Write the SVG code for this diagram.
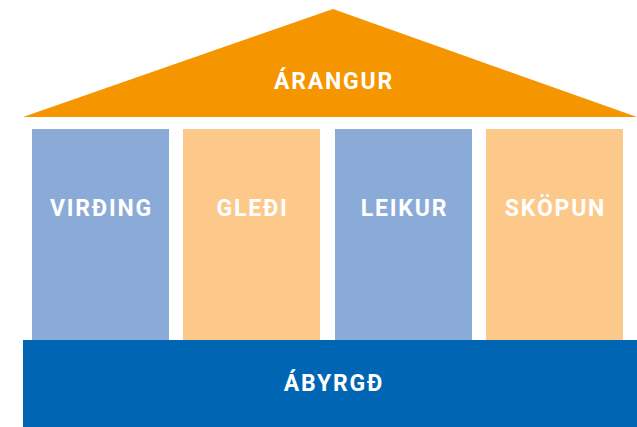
<svg xmlns="http://www.w3.org/2000/svg" width="637" height="427" viewBox="0 0 637 427">
<style>
.t{font-family:Roboto,"DejaVu Sans",sans-serif;font-weight:bold;font-size:23px;fill:#fff;text-anchor:middle;letter-spacing:1.8px}
.b{fill:#8AAAD8}
.o{fill:#FDC98A}
</style>
<rect width="637" height="427" fill="#fff"/>
<g id="roof">
<polygon points="23,117 333,9 637,117" fill="#F59500"/>
<text class="t" x="334" y="89">ÁRANGUR</text>
</g>
<g id="virding">
<rect class="b" x="32" y="129" width="137" height="211"/>
<text class="t" x="101.5" y="216">VIRÐING</text>
</g>
<g id="gledi">
<rect class="o" x="183" y="129" width="137" height="211"/>
<text class="t" x="252.5" y="216">GLEÐI</text>
</g>
<g id="leikur">
<rect class="b" x="335" y="129" width="137" height="211"/>
<text class="t" x="404.5" y="216">LEIKUR</text>
</g>
<g id="skopun">
<rect class="o" x="486" y="129" width="137" height="211"/>
<text class="t" x="555.5" y="216">SKÖPUN</text>
</g>
<g id="abyrgd">
<rect x="23" y="340" width="614" height="87" fill="#0066B3"/>
<text class="t" x="334" y="391">ÁBYRGÐ</text>
</g>
<g id="connectors"></g>
</svg>
